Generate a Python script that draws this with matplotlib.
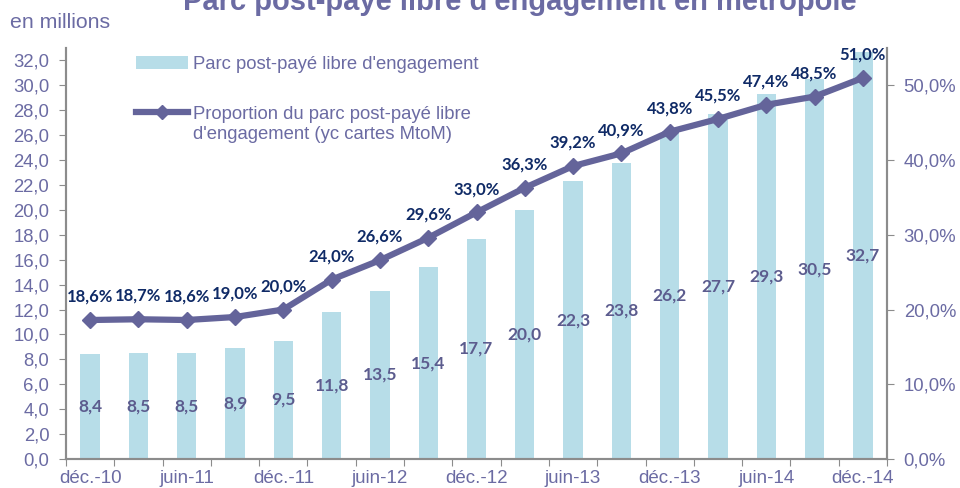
import matplotlib
matplotlib.use("Agg")
import matplotlib.pyplot as plt
import numpy as np
from matplotlib.lines import Line2D
from matplotlib.patches import Patch
from matplotlib.legend_handler import HandlerLine2D

categories = ["déc.-10", "mars-11", "juin-11", "sept.-11", "déc.-11", "mars-12", "juin-12",
              "sept.-12", "déc.-12", "mars-13", "juin-13", "sept.-13", "déc.-13", "mars-14",
              "juin-14", "sept.-14", "déc.-14"]
parc = [8.4, 8.5, 8.5, 8.9, 9.5, 11.8, 13.5, 15.4, 17.7, 20.0, 22.3, 23.8, 26.2, 27.7, 29.3, 30.5, 32.7]
proportion = [18.6, 18.7, 18.6, 19.0, 20.0, 24.0, 26.6, 29.6, 33.0, 36.3, 39.2, 40.9, 43.8, 45.5, 47.4, 48.5, 51.0]
left_ticks = [0, 2, 4, 6, 8, 10, 12, 14, 16, 18, 20, 22, 24, 26, 28, 30, 32]
right_ticks = [0, 10, 20, 30, 40, 50]

axis_col = "#6b6ba3"
bar_col = "#b7dde8"
line_col = "#64649a"
lbl_navy = "#0f2a66"
bar_lbl = "#5c5c8e"
spine_col = "#8c8c8c"


class UpHandler(HandlerLine2D):
    def create_artists(self, legend, orig_handle, xdescent, ydescent, width, height, fontsize, trans):
        arts = super().create_artists(legend, orig_handle, xdescent, ydescent, width, height, fontsize, trans)
        for a in arts:
            a.set_ydata(np.asarray(a.get_ydata(), dtype=float) + 0.5 * fontsize * legend.figure.dpi / 72)
        return arts


fig = plt.figure(figsize=(9.6, 4.88), dpi=100)
ax = fig.add_axes([66/960, 1-459/488, (887-66)/960, (459-48)/488])
ax2 = ax.twinx()

x = np.arange(len(categories))
ax.bar(x, parc, width=0.4, color=bar_col, zorder=1)
ax.set_xlim(-0.5, len(categories)-0.5)
ax.set_ylim(0, 33)
ax.set_yticks(left_ticks)
ax.set_yticklabels([f"{v:.1f}".replace(".", ",") for v in left_ticks])
ax.set_xticks(np.arange(-0.5, len(categories)), minor=False)
ax.set_xticklabels([])
ax.set_xticks(x[::2], minor=True)
ax.set_xticklabels(categories[::2], minor=True)
ax.tick_params(axis="x", which="minor", length=0, pad=8, labelsize=13.5, labelcolor=axis_col)
ax.tick_params(axis="x", which="major", length=5, color=spine_col, direction="out")
ax.tick_params(axis="y", length=5, color=spine_col, labelsize=13.3, labelcolor=axis_col, pad=7)

for lab in ax.get_xticklabels(minor=True) + ax.get_yticklabels():
    lab.set_fontfamily("Liberation Sans")

for i, v in enumerate(parc):
    ax.text(i, v/2, f"{v:.1f}".replace(".", ","), ha="center", va="center",
            fontsize=12.5, fontweight="bold", color=bar_lbl, family="Lato")

ax2.plot(x, proportion, color=line_col, lw=4.5, marker="D", markersize=8.5, zorder=3)
ax2.set_ylim(0, 55)
ax2.set_yticks(right_ticks)
ax2.set_yticklabels([f"{v:.1f}%".replace(".", ",") for v in right_ticks])
ax2.tick_params(axis="y", length=5, color=spine_col, labelsize=13.3, labelcolor=axis_col, pad=7)
for lab in ax2.get_yticklabels():
    lab.set_fontfamily("Liberation Sans")

for i, v in enumerate(proportion):
    ax2.annotate(f"{v:.1f}%".replace(".", ","), (i, v), xytext=(0, 11), textcoords="offset points",
                 ha="center", va="bottom", fontsize=12, fontweight="bold", color=lbl_navy, family="Lato")

for a in (ax, ax2):
    a.spines["top"].set_visible(False)
    for s in ["left", "right", "bottom"]:
        a.spines[s].set_color(spine_col)
        a.spines[s].set_linewidth(1.5)

bar_handle = Patch(facecolor=bar_col, edgecolor="none")
line_handle = Line2D([0], [0], color=line_col, lw=4.5, marker="D", markersize=7)
handles = [bar_handle, line_handle]
labels = ["Parc post-payé libre d'engagement", "Proportion du parc post-payé libre\nd'engagement (yc cartes MtoM)"]
leg = ax.legend(handles, labels, loc="upper left", bbox_to_anchor=((136-66)/821, (459-56)/411),
                frameon=False, prop={"family": "Liberation Sans", "size": 13.3}, labelspacing=1.8,
                handlelength=2.8, handletextpad=0.3, borderpad=0, borderaxespad=0,
                handler_map={Line2D: UpHandler()})
for t in leg.get_texts():
    t.set_color(axis_col)

fig.text(10/960, 1-22/488, "en millions", fontsize=15.3, color=axis_col, family="Liberation Sans",
         ha="left", va="center")
fig.text(520/960, 1-10/488, "Parc post-payé libre d'engagement en métropole", fontsize=21,
         fontweight="bold", color=axis_col, family="Liberation Sans", ha="center", va="baseline")

fig.savefig("out.png", dpi=100)
